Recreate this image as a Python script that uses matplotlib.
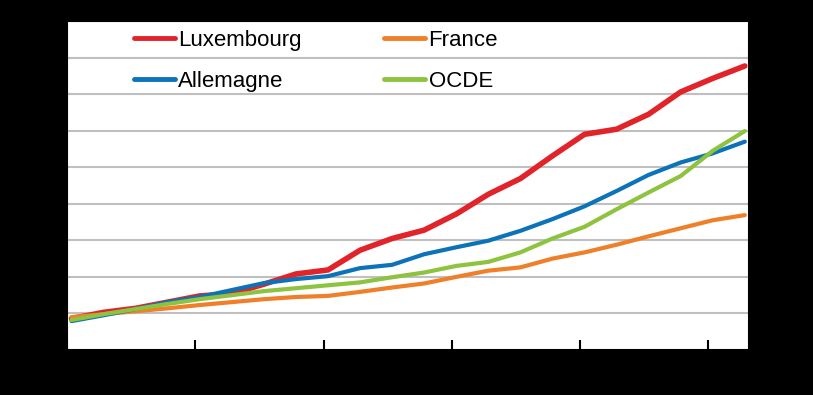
import matplotlib
matplotlib.use("Agg")
import matplotlib.pyplot as plt
import numpy as np

# ---- data ----
periods = list(range(22))
luxembourg = [0.86, 1.03, 1.14, 1.31, 1.48, 1.54, 1.80, 2.08, 2.19, 2.73, 3.05,
              3.28, 3.72, 4.26, 4.69, 5.31, 5.90, 6.04, 6.45, 7.06, 7.43, 7.77]
france = [0.90, 0.98, 1.06, 1.14, 1.23, 1.31, 1.39, 1.45, 1.48, 1.59, 1.71,
          1.82, 2.00, 2.17, 2.26, 2.50, 2.67, 2.88, 3.11, 3.33, 3.55, 3.69]
allemagne = [0.79, 0.95, 1.12, 1.31, 1.45, 1.64, 1.83, 1.94, 2.02, 2.24, 2.33,
             2.62, 2.81, 2.99, 3.26, 3.58, 3.93, 4.35, 4.79, 5.13, 5.38, 5.70]
ocde = [0.82, 0.98, 1.12, 1.26, 1.39, 1.50, 1.61, 1.69, 1.77, 1.85, 1.99,
        2.12, 2.30, 2.41, 2.67, 3.05, 3.37, 3.85, 4.31, 4.76, 5.45, 5.99]
labels = ["Luxembourg", "France", "Allemagne", "OCDE"]
colors = ["#E1232A", "#F07F2A", "#0C73B8", "#8DC33F"]

W, H = 813, 395
fig = plt.figure(figsize=(W / 100, H / 100), dpi=100, facecolor="black")
ax = fig.add_axes([67 / W, (H - 350) / H, (749 - 67) / W, (350 - 21) / H])
ax.set_facecolor("white")

series = [luxembourg, france, allemagne, ocde]
widths = [4.0, 3.0, 3.0, 3.0]
handles = []
for vals, lab, col, lw in zip(series, labels, colors, widths):
    (ln,) = ax.plot(periods, vals, color=col, lw=lw, label=lab,
                    solid_capstyle="round", solid_joinstyle="round", zorder=3)
    handles.append(ln)

ax.set_xlim(-0.14, 21.13)
ax.set_ylim(0, 9)
ax.set_yticks(np.arange(1, 10))
ax.yaxis.grid(True, color="#C0C0C0", lw=1.5, zorder=1)
ax.set_axisbelow(True)
ax.set_xticks([-0.14 + 4 * k for k in range(6)])
ax.tick_params(axis="x", direction="in", length=7, width=1.5, color="black",
               labelbottom=False)
ax.tick_params(axis="y", length=0, labelleft=False)
for s in ax.spines.values():
    s.set_color("black")
    s.set_linewidth(1.5)

fam = ["Liberation Sans Narrow", "Liberation Sans", "DejaVu Sans"]
order = [0, 2, 1, 3]
leg = ax.legend([handles[i] for i in order], [labels[i] for i in order],
                ncol=2, frameon=False, loc="upper left",
                bbox_to_anchor=(134 / W, (H - 30) / H),
                bbox_transform=fig.transFigure,
                prop={"family": fam, "size": 16},
                handlelength=1.85, handletextpad=0.15, columnspacing=3.7,
                labelspacing=0.9, borderpad=0, borderaxespad=0)
for l in leg.get_lines():
    l.set_linewidth(3.5)

fig.savefig("out.png", dpi=100, facecolor="black")
